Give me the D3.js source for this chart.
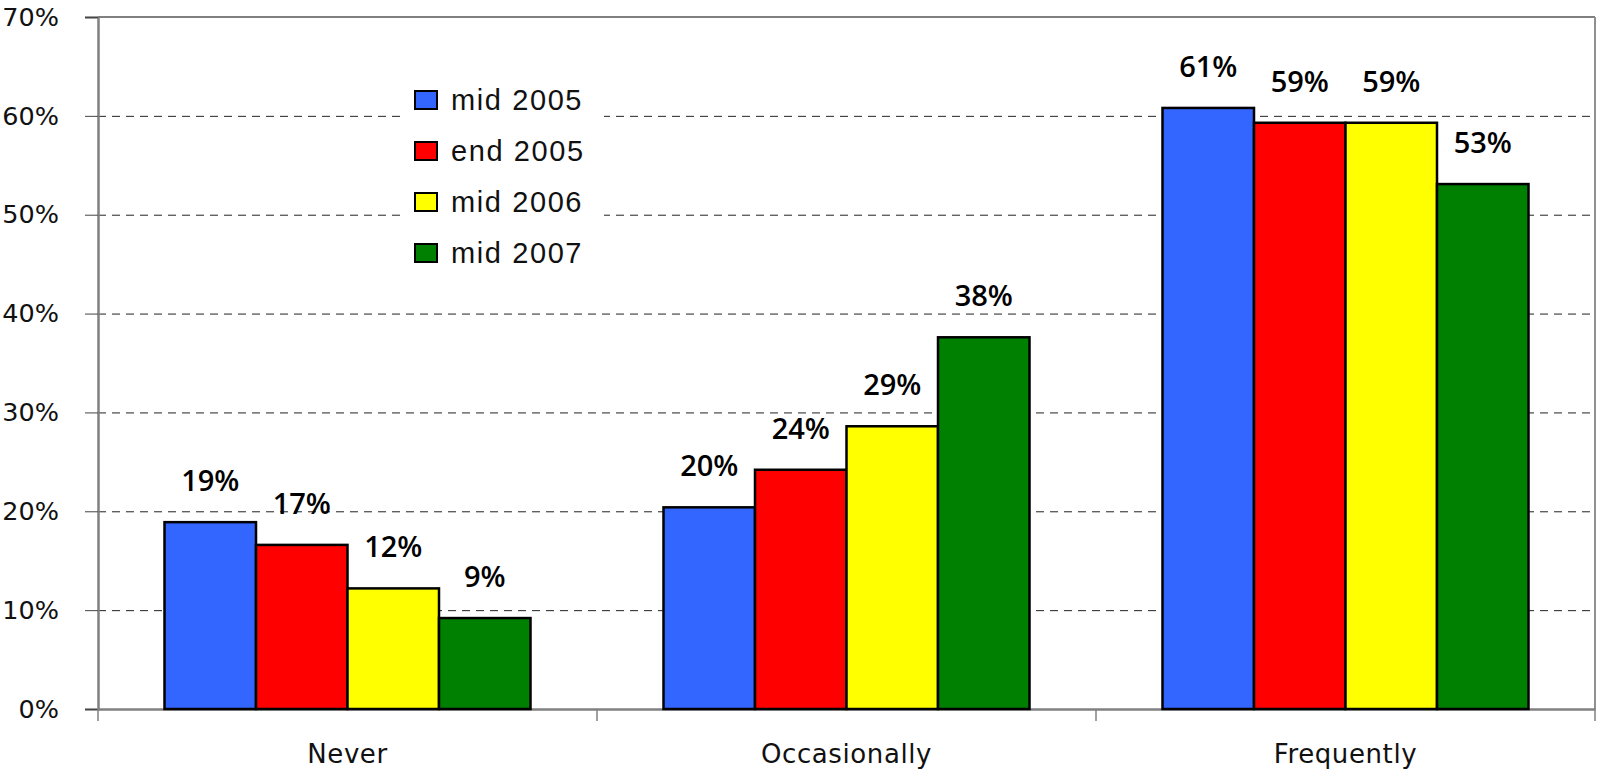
<!DOCTYPE html>
<html><head><meta charset="utf-8">
<script src="https://cdn.jsdelivr.net/npm/d3@7"></script>
<style>html,body{margin:0;padding:0;background:#fff;}svg{display:block;}</style>
</head><body>
<svg id="chart" width="1600" height="777"></svg>
<script>
const categories = ["Never", "Occasionally", "Frequently"];
const seriesNames = ["mid 2005", "end 2005", "mid 2006", "mid 2007"];
const seriesColors = ["#3366FF", "#FF0000", "#FFFF00", "#008000"];
const midVals2005 = [18.9, 20.4, 60.8];
const endVals2005 = [16.6, 24.2, 59.3];
const midVals2006 = [12.2, 28.6, 59.3];
const midVals2007 = [9.2, 37.6, 53.1];
const yTicks = [0, 10, 20, 30, 40, 50, 60, 70];

const seriesValues = [midVals2005, endVals2005, midVals2006, midVals2007];

const svg = d3.select("#chart");
const L = 98, R = 1595, T = 17, B = 709;

const x0 = d3.scaleBand().domain(categories).range([L, R]).padding(0);
const groupW = 366;
const x1 = d3.scaleBand().domain(seriesNames).range([0, groupW]).padding(0);
const y = d3.scaleLinear().domain([0, 70]).range([B, T]);

// gridlines
svg.append("g").selectAll("line").data(yTicks.filter(t => t > 0 && t < 70)).join("line")
  .attr("x1", L).attr("x2", R).attr("y1", d => y(d) + 0.5).attr("y2", d => y(d) + 0.5)
  .attr("stroke", "#222").attr("stroke-width", 1).attr("stroke-dasharray", "8,6");

// frame: top and right
svg.append("line").attr("x1", L).attr("x2", R).attr("y1", y(70)).attr("y2", y(70))
  .attr("stroke", "#808080").attr("stroke-width", 2);
svg.append("line").attr("x1", R).attr("x2", R).attr("y1", y(70)).attr("y2", B)
  .attr("stroke", "#909090").attr("stroke-width", 2);

// y axis
const yAxis = svg.append("g").attr("transform", `translate(${L},0)`)
  .call(d3.axisLeft(y).tickValues(yTicks).tickFormat(d => d + "%").tickSize(13).tickPadding(26));
yAxis.select(".domain").attr("stroke", "#808080").attr("stroke-width", 2.5);
yAxis.selectAll(".tick line").attr("stroke", "#444").attr("stroke-width", 1);
yAxis.selectAll(".tick text").attr("font-family", "DejaVu Sans").attr("font-size", 25.5)
  .attr("fill", "#111");

// x axis
const xAxis = svg.append("g").attr("transform", `translate(0,${B})`)
  .call(d3.axisBottom(x0).tickSize(0).tickPadding(36));
xAxis.select(".domain").attr("stroke", "#808080").attr("stroke-width", 2.5);
xAxis.selectAll(".tick text").attr("font-family", "DejaVu Sans").attr("font-size", 26)
  .attr("fill", "#111").attr("letter-spacing", "0.6px");
// boundary ticks
const bounds = categories.map(c => x0(c)).concat([x0(categories[categories.length - 1]) + x0.bandwidth()]);
svg.append("g").selectAll("line").data(bounds).join("line")
  .attr("x1", d => d).attr("x2", d => d).attr("y1", B).attr("y2", B + 12)
  .attr("stroke", "#808080").attr("stroke-width", 1.5);

// bars
const groups = svg.append("g").selectAll("g").data(categories).join("g")
  .attr("transform", c => `translate(${x0(c) + (x0.bandwidth() - groupW) / 2},0)`);
groups.each(function (c, ci) {
  const g = d3.select(this);
  seriesNames.forEach((s, si) => {
    const v = seriesValues[si][ci];
    g.append("rect")
      .attr("x", x1(s)).attr("y", y(v)).attr("width", x1.bandwidth()).attr("height", y(0) - y(v))
      .attr("fill", seriesColors[si]).attr("stroke", "#000").attr("stroke-width", 2.5);
  });
  seriesNames.forEach((s, si) => {
    const v = seriesValues[si][ci];
    g.append("text")
      .attr("x", x1(s) + x1.bandwidth() / 2).attr("y", y(v) - 31)
      .attr("text-anchor", "middle").attr("font-family", "Open Sans").attr("font-weight", 600)
      .attr("font-size", 29).attr("fill", "#000").text(Math.round(v) + "%");
  });
});

// legend
const lg = svg.append("g");
lg.append("rect").attr("x", 400).attr("y", 72).attr("width", 204).attr("height", 204).attr("fill", "#fff");
seriesNames.forEach((s, i) => {
  const cy = 100 + i * 51;
  lg.append("rect").attr("x", 415).attr("y", cy - 9).attr("width", 22).attr("height", 18)
    .attr("fill", seriesColors[i]).attr("stroke", "#000").attr("stroke-width", 2);
  lg.append("text").attr("x", 451).attr("y", cy + 10)
    .attr("font-family", "Liberation Sans").attr("font-size", 29).attr("letter-spacing", "1.6px")
    .attr("fill", "#111").text(s);
});
</script>
</body></html>
